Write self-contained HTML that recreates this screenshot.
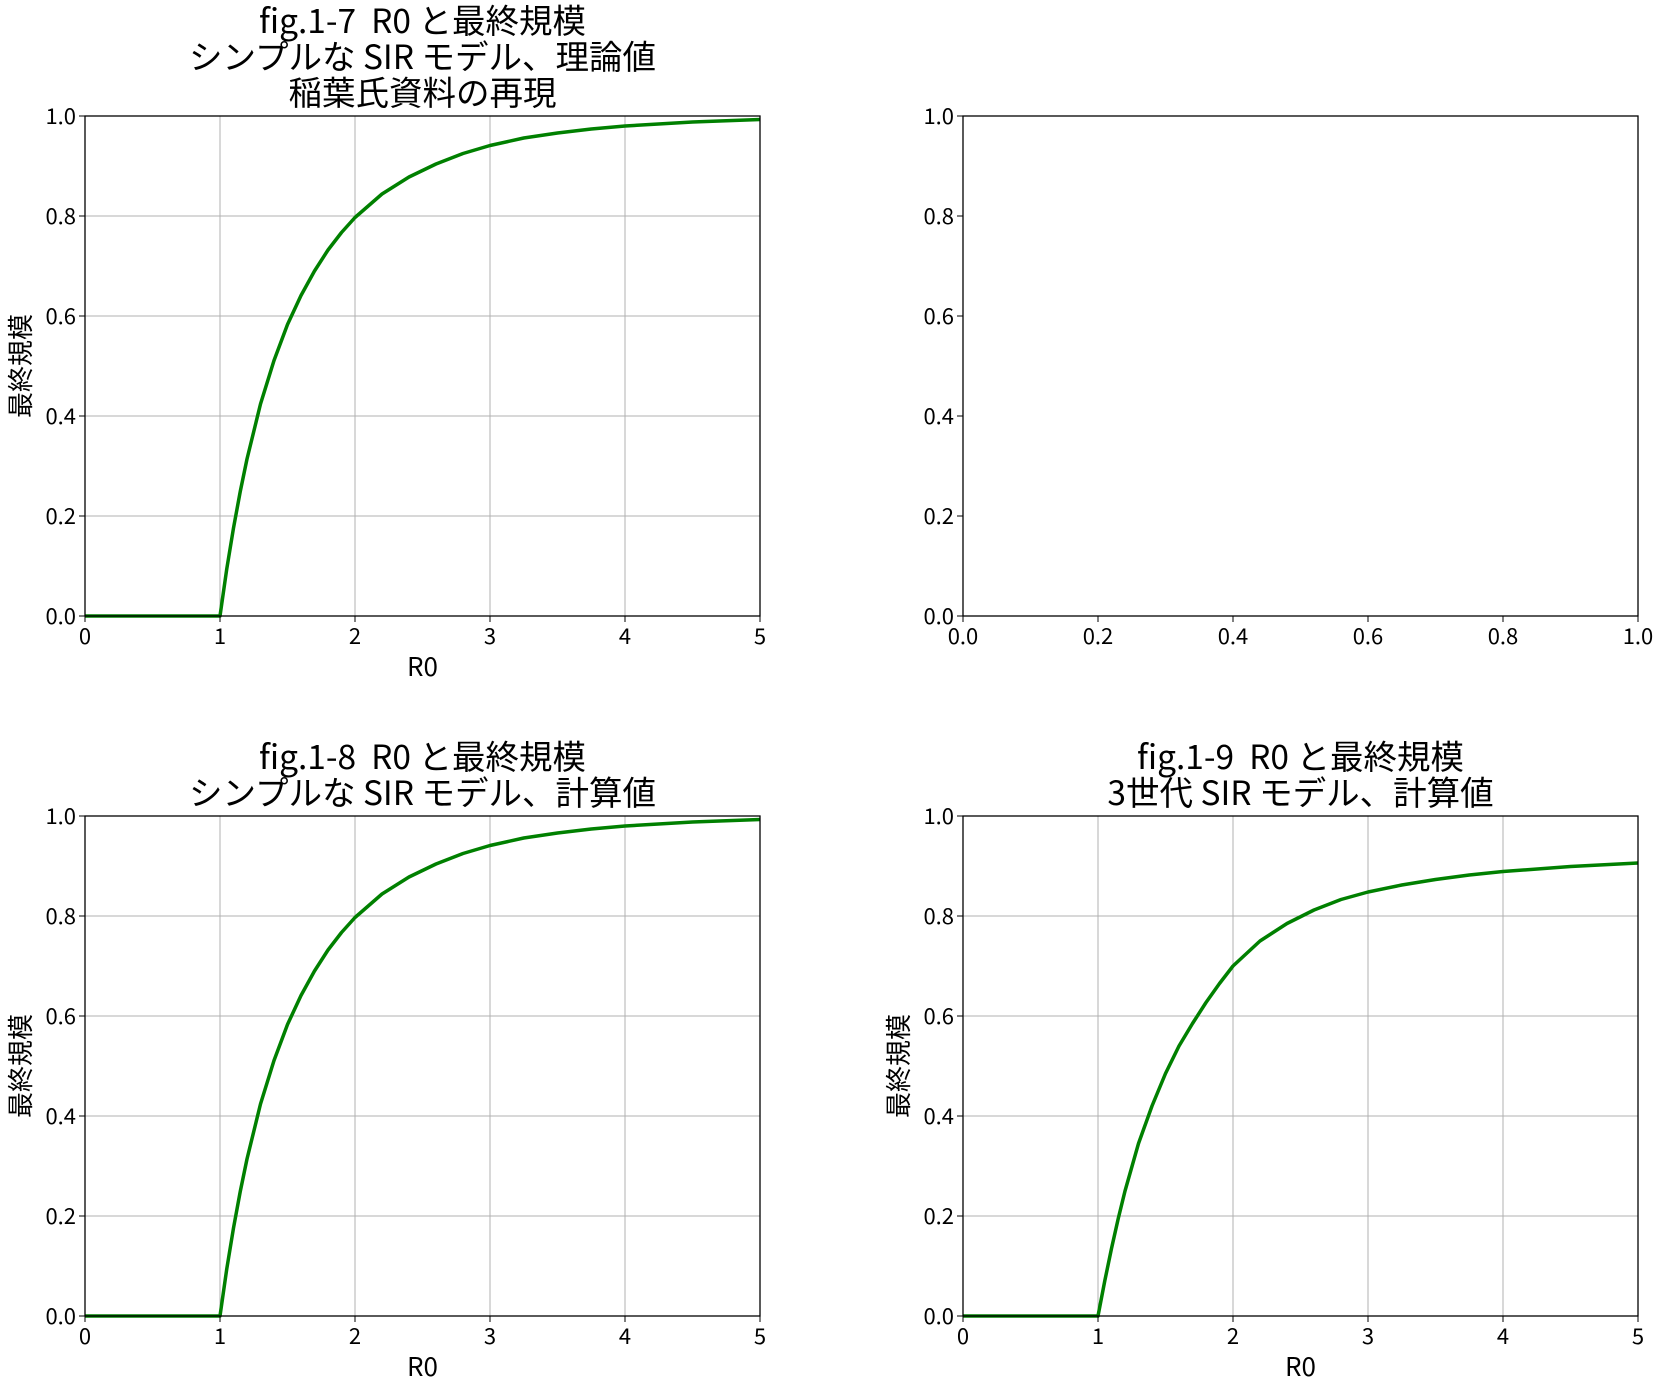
<!DOCTYPE html>
<html><head><meta charset="utf-8"><style>
body{margin:0;background:#fff}
svg text{font-family:"Noto Sans CJK JP","Liberation Sans",sans-serif;fill:#000;white-space:pre}
</style></head><body>
<svg id="fig" width="1664" height="1388" viewBox="0 0 1664 1388" xmlns="http://www.w3.org/2000/svg"></svg>
<script>
const r0Values = [0, 1, 1.05, 1.1, 1.15, 1.2, 1.3, 1.4, 1.5, 1.6, 1.7, 1.8, 1.9, 2, 2.2, 2.4, 2.6, 2.8, 3, 3.25, 3.5, 3.75, 4, 4.5, 5];
const theorySize = [0, 0, 0.094, 0.176, 0.249, 0.314, 0.424, 0.511, 0.583, 0.641, 0.690, 0.732, 0.767, 0.797, 0.844, 0.878, 0.904, 0.925, 0.941, 0.956, 0.966, 0.974, 0.980, 0.988, 0.993];
const simSize = [0, 0, 0.094, 0.176, 0.249, 0.314, 0.424, 0.511, 0.583, 0.641, 0.690, 0.732, 0.767, 0.797, 0.844, 0.878, 0.904, 0.925, 0.941, 0.956, 0.966, 0.974, 0.980, 0.988, 0.993];
const threeGenSize = [0, 0, 0.07, 0.135, 0.195, 0.25, 0.345, 0.42, 0.485, 0.54, 0.585, 0.627, 0.665, 0.70, 0.75, 0.785, 0.812, 0.833, 0.848, 0.862, 0.873, 0.882, 0.889, 0.899, 0.906];
const xTicksR0 = [0, 1, 2, 3, 4, 5];
const xTicksUnit = ["0.0", "0.2", "0.4", "0.6", "0.8", "1.0"];
const yTicks = ["0.0", "0.2", "0.4", "0.6", "0.8", "1.0"];

const NS = "http://www.w3.org/2000/svg";
const svg = document.getElementById("fig");
function mk(tag, attrs, parent) {
  const e = document.createElementNS(NS, tag);
  for (const k in attrs) e.setAttribute(k, attrs[k]);
  (parent || svg).appendChild(e);
  return e;
}
const W = 675, H = 500;
function panel(name, x0, y0, xmax, xtickLabels, xvals, series, titleLines, withLabels) {
  const g = mk("g", {});
  
  
  const sx = v => x0 + v / xmax * W;
  const sy = v => y0 + H - v * H;
  if (series) {
    xvals.forEach(v => {
      const l = mk("line", {x1: sx(v), x2: sx(v), y1: y0, y2: y0 + H, stroke: "#b0b0b0", "stroke-width": 1}, g);
      
      
    });
    yTicks.forEach(t => {
      const l = mk("line", {x1: x0, x2: x0 + W, y1: sy(+t), y2: sy(+t), stroke: "#b0b0b0", "stroke-width": 1}, g);
      
      
    });
    const pts = r0Values.map((r, i) => sx(r) + "," + sy(series[i])).join(" ");
    const pl = mk("polyline", {points: pts, fill: "none", stroke: "#008000", "stroke-width": 3.5, "stroke-linejoin": "round"}, g);
    
    
  }
  const fr = mk("rect", {x: x0, y: y0, width: W, height: H, fill: "none", stroke: "#000", "stroke-width": 1.3}, g);
  
  
  xvals.forEach((v, i) => {
    mk("line", {x1: sx(v), x2: sx(v), y1: y0 + H, y2: y0 + H + 6, stroke: "#000"}, g);
    const t = mk("text", {x: sx(v), y: y0 + H + 28, "text-anchor": "middle", "font-size": 22}, g);
    t.textContent = xtickLabels[i];
    
    
  });
  yTicks.forEach(tk => {
    mk("line", {x1: x0 - 6, x2: x0, y1: sy(+tk), y2: sy(+tk), stroke: "#000"}, g);
    const t = mk("text", {x: x0 - 9, y: sy(+tk) + 8, "text-anchor": "end", "font-size": 22}, g);
    t.textContent = tk;
    
    
  });
  if (withLabels) {
    const xl = mk("text", {x: x0 + W / 2, y: y0 + H + 60, "text-anchor": "middle", "font-size": 26}, g);
    xl.textContent = "R0";
    
    
    const cx = x0 - 64, cy = y0 + H / 2;
    const yl = mk("text", {x: cx, y: cy + 9, "text-anchor": "middle", "font-size": 26, transform: `rotate(-90 ${cx} ${cy})`}, g);
    yl.textContent = "最終規模";
    
    
  }
  const n = titleLines.length;
  titleLines.forEach((s, i) => {
    const t = mk("text", {x: x0 + W / 2, y: y0 - 11 - (n - 1 - i) * 36, "text-anchor": "middle", "font-size": 33.5}, g);
    t.textContent = s;
    
    
  });
}
panel("panel-fig-1-7", 85, 116, 5, xTicksR0.map(String), xTicksR0, theorySize,
  ["fig.1-7  R0 と最終規模", "シンプルな SIR モデル、理論値", "稲葉氏資料の再現"], true);
panel("panel-empty", 963, 116, 1, xTicksUnit, xTicksUnit.map(Number), null, [], false);
panel("panel-fig-1-8", 85, 816, 5, xTicksR0.map(String), xTicksR0, simSize,
  ["fig.1-8  R0 と最終規模", "シンプルな SIR モデル、計算値"], true);
panel("panel-fig-1-9", 963, 816, 5, xTicksR0.map(String), xTicksR0, threeGenSize,
  ["fig.1-9  R0 と最終規模", "3世代 SIR モデル、計算値"], true);
</script>
</body></html>
